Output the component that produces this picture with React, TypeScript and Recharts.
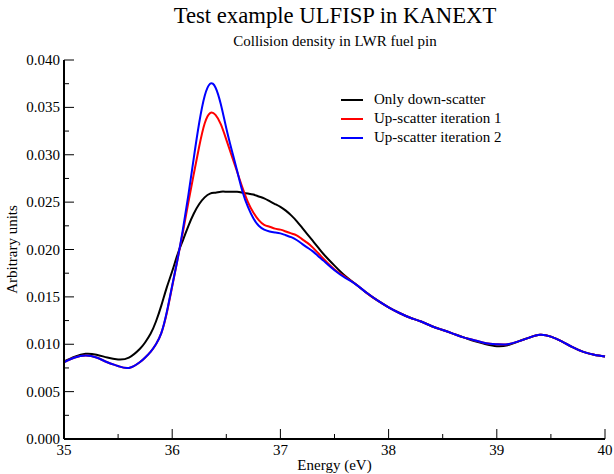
import React from 'react';
import { LineChart, Line, XAxis, YAxis, Legend } from 'recharts';

// Energy grid (eV), denser around the resonance
const energy = [
  35.0, 35.1, 35.2, 35.3, 35.4, 35.5, 35.6, 35.7,
  35.75, 35.8, 35.85, 35.9, 35.95, 36.0, 36.05, 36.1, 36.15, 36.2, 36.25, 36.3,
  36.35, 36.4, 36.45, 36.5, 36.55, 36.6, 36.65, 36.7, 36.75, 36.8, 36.85, 36.9,
  36.95, 37.0, 37.05, 37.1, 37.15, 37.2, 37.25, 37.3, 37.35, 37.4,
  37.5, 37.6, 37.7, 37.8, 37.9, 38.0, 38.1, 38.2, 38.3, 38.4, 38.5, 38.6, 38.7,
  38.8, 38.9, 39.0, 39.1, 39.2, 39.3, 39.4, 39.5, 39.6, 39.7, 39.8, 39.9, 40.0,
];

const onlyDown = [
  0.0082, 0.0087, 0.0090, 0.0089, 0.0086, 0.0084, 0.0086, 0.0095,
  0.0102, 0.0111, 0.0124, 0.0141, 0.0160, 0.0177, 0.0195, 0.0210, 0.0225, 0.0238, 0.0248, 0.0255,
  0.0259, 0.0260, 0.0261, 0.0261, 0.0261, 0.0261, 0.0260, 0.0259, 0.0258, 0.0256, 0.0254, 0.0251,
  0.0248, 0.0245, 0.0241, 0.0236, 0.0230, 0.0223, 0.0216, 0.0209, 0.0202, 0.0195,
  0.0183, 0.0172, 0.0163, 0.0154, 0.0146, 0.0139, 0.0133, 0.0128, 0.0124, 0.0119, 0.0115, 0.0111, 0.0107,
  0.0103, 0.0100, 0.0098, 0.0099, 0.0103, 0.0107, 0.0110, 0.0108, 0.0103, 0.0097, 0.0092, 0.0089, 0.0087,
];

const upIter1 = [
  0.0081, 0.0086, 0.0088, 0.0086, 0.0081, 0.0077, 0.0075, 0.0081,
  0.0086, 0.0092, 0.0100, 0.0112, 0.0133, 0.0161, 0.0190, 0.0219, 0.0250, 0.0280, 0.0309, 0.0333,
  0.0344, 0.0342, 0.0332, 0.0316, 0.0299, 0.0282, 0.0265, 0.0250, 0.0239, 0.0231, 0.0226, 0.0224,
  0.0222, 0.0221, 0.0219, 0.0217, 0.0215, 0.0211, 0.0207, 0.0202, 0.0196, 0.0190,
  0.0179, 0.0171, 0.0163, 0.0154, 0.0146, 0.0139, 0.0133, 0.0128, 0.0124, 0.0119, 0.0115, 0.0111, 0.0107,
  0.0104, 0.0101, 0.0100, 0.0100, 0.0103, 0.0107, 0.0110, 0.0108, 0.0103, 0.0097, 0.0092, 0.0089, 0.0087,
];

const upIter2 = [
  0.0081, 0.0086, 0.0088, 0.0086, 0.0081, 0.0077, 0.0075, 0.0081,
  0.0086, 0.0092, 0.0100, 0.0112, 0.0134, 0.0162, 0.0190, 0.0222, 0.0258, 0.0297, 0.0334, 0.0362,
  0.0375, 0.0371, 0.0353, 0.0328, 0.0305, 0.0283, 0.0261, 0.0245, 0.0233, 0.0225, 0.0221, 0.0219,
  0.0218, 0.0217, 0.0215, 0.0213, 0.0210, 0.0206, 0.0202, 0.0198, 0.0193, 0.0188,
  0.0178, 0.0170, 0.0163, 0.0154, 0.0146, 0.0139, 0.0133, 0.0128, 0.0124, 0.0119, 0.0115, 0.0111, 0.0107,
  0.0104, 0.0101, 0.0100, 0.0100, 0.0103, 0.0107, 0.0110, 0.0108, 0.0103, 0.0097, 0.0092, 0.0089, 0.0087,
];

const xTicks = [35, 35.5, 36, 36.5, 37, 37.5, 38, 38.5, 39, 39.5, 40];
const yTicks = [
  0, 0.0025, 0.005, 0.0075, 0.01, 0.0125, 0.015, 0.0175, 0.02,
  0.0225, 0.025, 0.0275, 0.03, 0.0325, 0.035, 0.0375, 0.04,
];

const chartData = energy.map((e, i) => ({
  energy: e,
  down: onlyDown[i],
  up1: upIter1[i],
  up2: upIter2[i],
}));

const FONT = '"Liberation Serif", "Times New Roman", serif';

const isMajor = (v: number, step: number) => Math.abs(v / step - Math.round(v / step)) < 1e-6;

// ticks point into the plot area; labels only on major ticks
const BottomTick = (props: any) => {
  const { x, y, payload } = props;
  const major = isMajor(payload.value, 1);
  return (
    <g>
      <line x1={x} x2={x} y1={y} y2={y - (major ? 10 : 5)} stroke="#000" />
      {major && (
        <text x={x} y={y + 16} textAnchor="middle" fontSize={15} fontFamily={FONT} fill="#000">
          {payload.value}
        </text>
      )}
    </g>
  );
};

const TopTick = (props: any) => {
  const { x, y, payload } = props;
  const major = isMajor(payload.value, 1);
  return <line x1={x} x2={x} y1={y} y2={y + (major ? 10 : 5)} stroke="#000" />;
};

const LeftTick = (props: any) => {
  const { x, y, payload } = props;
  const major = isMajor(payload.value, 0.005);
  return (
    <g>
      <line x1={x} x2={x + (major ? 10 : 5)} y1={y} y2={y} stroke="#000" />
      {major && (
        <text x={x - 4} y={y + 5} textAnchor="end" fontSize={15} fontFamily={FONT} fill="#000">
          {payload.value.toFixed(3)}
        </text>
      )}
    </g>
  );
};

const RightTick = (props: any) => {
  const { x, y, payload } = props;
  const major = isMajor(payload.value, 0.005);
  return <line x1={x} x2={x - (major ? 10 : 5)} y1={y} y2={y} stroke="#000" />;
};

const renderLegend = (props: any) => {
  const { payload } = props;
  return (
    <div style={{ fontFamily: FONT, fontSize: 15, color: '#000' }}>
      {payload.map((entry: any) => (
        <div key={entry.value} style={{ display: 'flex', alignItems: 'center', height: 19 }}>
          <span style={{ display: 'inline-block', width: 22, height: 2, background: entry.color, marginRight: 11 }} />
          <span>{entry.value}</span>
        </div>
      ))}
    </div>
  );
};

const App = () => {
  return (
    <div style={{ width: 614, height: 474 }}>
      <style>{'body { margin: 0; }'}</style>
      <LineChart
        width={614}
        height={474}
        data={chartData}
        margin={{ top: 60, right: 9, bottom: 0, left: 0 }}
        style={{ fontFamily: FONT, background: '#fff' }}
      >
        <text x={335} y={23} textAnchor="middle" fontSize={22.7} fontFamily={FONT} fill="#000">
          Test example ULFISP in KANEXT
        </text>
        <text x={335} y={46} textAnchor="middle" fontSize={15} fontFamily={FONT} fill="#000">
          Collision density in LWR fuel pin
        </text>
        <XAxis
          dataKey="energy"
          type="number"
          domain={[35, 40]}
          ticks={xTicks}
          interval={0}
          height={35}
          tickSize={0}
          tickMargin={0}
          tickLine={false}
          axisLine={{ stroke: '#000', strokeWidth: 2 }}
          tick={BottomTick}
          label={{ value: 'Energy (eV)', position: 'insideBottom', offset: 4, fontSize: 15, fill: '#000', fontFamily: FONT }}
        />
        <XAxis
          xAxisId="top"
          orientation="top"
          type="number"
          domain={[35, 40]}
          ticks={xTicks}
          interval={0}
          height={0}
          tickSize={0}
          tickMargin={0}
          tickLine={false}
          axisLine={{ stroke: '#000', strokeWidth: 2 }}
          tick={TopTick}
        />
        <YAxis
          type="number"
          domain={[0, 0.04]}
          ticks={yTicks}
          interval={0}
          width={64}
          tickSize={0}
          tickMargin={0}
          tickLine={false}
          axisLine={{ stroke: '#000', strokeWidth: 2 }}
          tick={LeftTick}
          label={{
            value: 'Arbitrary units',
            angle: -90,
            position: 'insideLeft',
            offset: 12,
            fontSize: 15,
            fill: '#000',
            fontFamily: FONT,
            style: { textAnchor: 'middle' },
          }}
        />
        <YAxis
          yAxisId="right"
          orientation="right"
          type="number"
          domain={[0, 0.04]}
          ticks={yTicks}
          interval={0}
          width={0}
          tickSize={0}
          tickMargin={0}
          tickLine={false}
          axisLine={{ stroke: '#000', strokeWidth: 2 }}
          tick={RightTick}
        />
        <Legend
          layout="vertical"
          align="center"
          verticalAlign="middle"
          content={renderLegend}
          wrapperStyle={{ position: 'absolute', top: 90, left: 341, width: 250, height: 60 }}
        />
        <Line type="natural" dataKey="down" name="Only down-scatter" stroke="#000000" strokeWidth={2} dot={false} isAnimationActive={false} />
        <Line type="natural" dataKey="up1" name="Up-scatter iteration 1" stroke="#ff0000" strokeWidth={2} dot={false} isAnimationActive={false} />
        <Line type="natural" dataKey="up2" name="Up-scatter iteration 2" stroke="#0000ff" strokeWidth={2} dot={false} isAnimationActive={false} />
      </LineChart>
    </div>
  );
};

export default App;
